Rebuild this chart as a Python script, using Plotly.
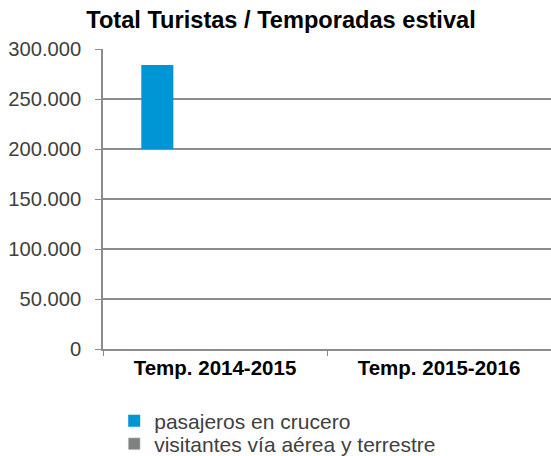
import plotly.graph_objects as go

categories = ["Temp. 2014-2015", "Temp. 2015-2016"]
visitantes = [200000, None]
crucero = [84000, None]
series_names = ["pasajeros en crucero", "visitantes vía aérea y terrestre"]
y_ticks = [0, 50000, 100000, 150000, 200000, 250000, 300000]

FONT = "Liberation Sans, Arial, sans-serif"

fig = go.Figure()
fig.add_trace(go.Bar(
    x=categories, y=crucero, base=visitantes, name=series_names[0],
    marker=dict(color="#0096D6", line=dict(width=0)),
    width=0.143, offset=-0.329, legend="legend",
))
fig.add_trace(go.Bar(
    x=categories, y=[None, None], name=series_names[1],
    marker=dict(color="#808080"), legend="legend2",
))

legend_common = dict(orientation="v", xanchor="left", yanchor="middle",
                     font=dict(size=21, color="#404040", family=FONT),
                     itemwidth=30, bgcolor="rgba(0,0,0,0)")

fig.update_layout(
    width=551, height=456,
    margin=dict(l=103, r=0, t=49, b=107, autoexpand=False),
    paper_bgcolor="white", plot_bgcolor="white",
    separators=",.",
    font=dict(family=FONT, color="#404040"),
    title=dict(text="<b>Total Turistas / Temporadas estival</b>",
               x=0.51, xanchor="center", y=0.957, yanchor="middle",
               font=dict(size=23.6, color="black", family=FONT)),
    showlegend=True,
    legend=dict(x=0.025, y=-0.24, **legend_common),
    legend2=dict(x=0.025, y=-0.317, **legend_common),
    bargap=0.2,
)
fig.update_xaxes(
    type="category", range=[-0.5, 1.5], automargin=False,
    showline=True, linecolor="#8c8c8c", linewidth=1.5,
    ticks="outside", tickson="boundaries", ticklen=5, tickcolor="#8c8c8c",
    tickfont=dict(size=20.5, color="black", family=FONT),
    tickprefix="<b>", ticksuffix="</b>",
    showgrid=False,
)
fig.update_yaxes(
    range=[0, 300000], tickvals=y_ticks, tickformat=",d", automargin=False,
    showline=True, linecolor="#8c8c8c", linewidth=1.5,
    ticks="outside", ticklen=6, tickcolor="#8c8c8c",
    showgrid=True, gridcolor="#8c8c8c", gridwidth=1.5,
    tickfont=dict(size=20.2, color="#404040", family=FONT),
    ticklabelstandoff=10,
    zeroline=False,
)

fig.write_html("out.html", config={"displayModeBar": False},
               post_script="document.body.style.margin='0';")
